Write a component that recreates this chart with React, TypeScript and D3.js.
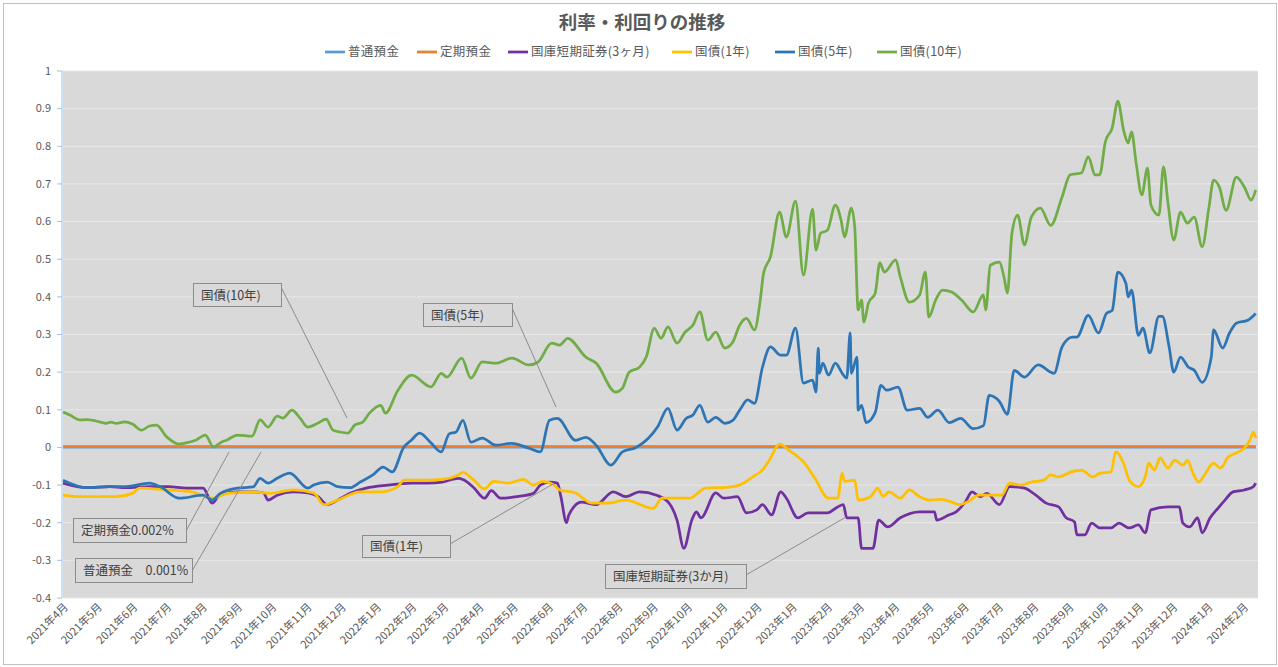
import React, { useEffect } from "react";
import * as d3 from "d3";

// ---- data (%) ----
type Pt = [string, number];

const jgb10y: Pt[] = [
  ["2021-04-01", 0.094], ["2021-04-07", 0.086], ["2021-04-16", 0.073], ["2021-04-22", 0.074],
  ["2021-05-03", 0.068], ["2021-05-09", 0.064], ["2021-05-13", 0.067], ["2021-05-18", 0.064],
  ["2021-05-25", 0.068], ["2021-06-01", 0.062], ["2021-06-09", 0.046], ["2021-06-16", 0.057],
  ["2021-06-22", 0.059], ["2021-07-01", 0.028], ["2021-07-12", 0.009], ["2021-07-18", 0.012],
  ["2021-07-27", 0.02], ["2021-08-04", 0.033], ["2021-08-11", 0.001], ["2021-08-18", 0.014],
  ["2021-08-23", 0.02], ["2021-09-01", 0.033], ["2021-09-14", 0.03], ["2021-09-21", 0.073],
  ["2021-09-28", 0.054], ["2021-10-06", 0.083], ["2021-10-11", 0.078], ["2021-10-19", 0.099],
  ["2021-10-26", 0.078], ["2021-11-02", 0.054], ["2021-11-11", 0.065], ["2021-11-18", 0.075],
  ["2021-11-24", 0.046], ["2021-11-30", 0.041], ["2021-12-07", 0.038], ["2021-12-13", 0.059],
  ["2021-12-20", 0.067], ["2021-12-26", 0.091], ["2022-01-05", 0.112], ["2022-01-09", 0.091],
  ["2022-01-20", 0.152], ["2022-02-01", 0.192], ["2022-02-18", 0.161], ["2022-02-27", 0.197],
  ["2022-03-04", 0.187], ["2022-03-17", 0.237], ["2022-03-25", 0.184], ["2022-04-04", 0.227],
  ["2022-04-16", 0.224], ["2022-04-30", 0.237], ["2022-05-15", 0.219], ["2022-05-23", 0.227],
  ["2022-06-04", 0.277], ["2022-06-11", 0.272], ["2022-06-18", 0.29], ["2022-07-04", 0.24],
  ["2022-07-13", 0.224], ["2022-07-30", 0.147], ["2022-08-05", 0.157], ["2022-08-11", 0.2],
  ["2022-08-20", 0.213], ["2022-08-26", 0.24], ["2022-09-02", 0.316], ["2022-09-08", 0.29],
  ["2022-09-14", 0.32], ["2022-09-22", 0.277], ["2022-09-29", 0.306], ["2022-10-06", 0.325],
  ["2022-10-12", 0.36], ["2022-10-19", 0.285], ["2022-10-26", 0.306], ["2022-11-03", 0.264],
  ["2022-11-10", 0.28], ["2022-11-16", 0.325], ["2022-11-22", 0.343], ["2022-11-29", 0.312],
  ["2022-12-04", 0.39], ["2022-12-07", 0.463], ["2022-12-13", 0.506], ["2022-12-21", 0.625],
  ["2022-12-27", 0.559], ["2023-01-04", 0.654], ["2023-01-11", 0.458], ["2023-01-19", 0.633],
  ["2023-01-22", 0.524], ["2023-01-26", 0.569], ["2023-02-01", 0.577], ["2023-02-08", 0.644],
  ["2023-02-13", 0.604], ["2023-02-16", 0.559], ["2023-02-22", 0.636], ["2023-02-25", 0.585],
  ["2023-02-28", 0.365], ["2023-03-03", 0.391], ["2023-03-05", 0.333], ["2023-03-09", 0.383],
  ["2023-03-15", 0.41], ["2023-03-19", 0.49], ["2023-03-23", 0.466], ["2023-04-02", 0.498],
  ["2023-04-06", 0.453], ["2023-04-14", 0.386], ["2023-04-23", 0.405], ["2023-04-28", 0.466],
  ["2023-05-01", 0.346], ["2023-05-07", 0.391], ["2023-05-13", 0.418], ["2023-05-21", 0.413],
  ["2023-05-30", 0.391], ["2023-06-09", 0.36], ["2023-06-18", 0.405], ["2023-06-20", 0.365],
  ["2023-06-24", 0.484], ["2023-07-02", 0.492], ["2023-07-06", 0.453], ["2023-07-09", 0.41],
  ["2023-07-13", 0.569], ["2023-07-18", 0.617], ["2023-07-24", 0.538], ["2023-07-30", 0.612],
  ["2023-08-07", 0.636], ["2023-08-16", 0.59], ["2023-08-26", 0.665], ["2023-09-02", 0.724],
  ["2023-09-12", 0.729], ["2023-09-18", 0.772], ["2023-09-24", 0.724], ["2023-09-28", 0.724],
  ["2023-10-03", 0.812], ["2023-10-09", 0.849], ["2023-10-14", 0.92], ["2023-10-19", 0.843],
  ["2023-10-23", 0.809], ["2023-10-26", 0.838], ["2023-10-30", 0.756], ["2023-11-04", 0.671],
  ["2023-11-09", 0.742], ["2023-11-12", 0.644], ["2023-11-19", 0.617], ["2023-11-23", 0.745],
  ["2023-11-27", 0.649], ["2023-12-02", 0.551], ["2023-12-08", 0.625], ["2023-12-14", 0.596],
  ["2023-12-20", 0.612], ["2023-12-27", 0.533], ["2024-01-02", 0.639], ["2024-01-06", 0.71],
  ["2024-01-11", 0.692], ["2024-01-17", 0.63], ["2024-01-26", 0.718], ["2024-02-02", 0.692],
  ["2024-02-08", 0.657], ["2024-02-12", 0.684],
];

const jgb5y: Pt[] = [
  ["2021-04-01", -0.087], ["2021-04-22", -0.107], ["2021-05-12", -0.104], ["2021-05-26", -0.104],
  ["2021-06-16", -0.095], ["2021-06-25", -0.104], ["2021-07-12", -0.135], ["2021-08-02", -0.127],
  ["2021-08-10", -0.14], ["2021-08-17", -0.122], ["2021-09-01", -0.108], ["2021-09-15", -0.105],
  ["2021-09-21", -0.082], ["2021-09-28", -0.095], ["2021-10-06", -0.082], ["2021-10-17", -0.068],
  ["2021-11-02", -0.108], ["2021-11-07", -0.1], ["2021-11-19", -0.092], ["2021-11-28", -0.104],
  ["2021-12-09", -0.107], ["2021-12-18", -0.092], ["2021-12-29", -0.073], ["2022-01-07", -0.052],
  ["2022-01-15", -0.065], ["2022-01-25", 0.0], ["2022-02-01", 0.02], ["2022-02-08", 0.038],
  ["2022-02-18", 0.012], ["2022-02-27", -0.012], ["2022-03-06", 0.036], ["2022-03-12", 0.041],
  ["2022-03-18", 0.072], ["2022-03-25", 0.014], ["2022-04-04", 0.025], ["2022-04-16", 0.006],
  ["2022-04-30", 0.011], ["2022-05-15", -0.002], ["2022-05-25", -0.012], ["2022-06-02", 0.072],
  ["2022-06-09", 0.077], ["2022-06-25", 0.019], ["2022-07-04", 0.027], ["2022-07-13", 0.006],
  ["2022-07-26", -0.047], ["2022-08-05", -0.012], ["2022-08-17", 0.0], ["2022-08-24", 0.014],
  ["2022-08-28", 0.025], ["2022-09-05", 0.055], ["2022-09-14", 0.104], ["2022-09-22", 0.046],
  ["2022-09-30", 0.077], ["2022-10-06", 0.086], ["2022-10-12", 0.112], ["2022-10-19", 0.067],
  ["2022-10-26", 0.08], ["2022-11-03", 0.064], ["2022-11-10", 0.072], ["2022-11-16", 0.099],
  ["2022-11-23", 0.126], ["2022-11-29", 0.117], ["2022-12-06", 0.213], ["2022-12-13", 0.267],
  ["2022-12-22", 0.245], ["2022-12-27", 0.245], ["2023-01-04", 0.317], ["2023-01-11", 0.171],
  ["2023-01-19", 0.179], ["2023-01-22", 0.147], ["2023-01-24", 0.264], ["2023-01-25", 0.197],
  ["2023-01-28", 0.224], ["2023-02-02", 0.192], ["2023-02-08", 0.224], ["2023-02-14", 0.197],
  ["2023-02-18", 0.184], ["2023-02-21", 0.304], ["2023-02-22", 0.197], ["2023-02-27", 0.24],
  ["2023-02-28", 0.099], ["2023-03-03", 0.112], ["2023-03-07", 0.066], ["2023-03-15", 0.093],
  ["2023-03-20", 0.165], ["2023-03-25", 0.152], ["2023-04-04", 0.16], ["2023-04-12", 0.099],
  ["2023-04-23", 0.104], ["2023-04-30", 0.08], ["2023-05-09", 0.099], ["2023-05-19", 0.066],
  ["2023-05-29", 0.077], ["2023-06-09", 0.05], ["2023-06-18", 0.058], ["2023-06-23", 0.138],
  ["2023-07-02", 0.122], ["2023-07-09", 0.088], ["2023-07-15", 0.205], ["2023-07-24", 0.187],
  ["2023-08-05", 0.219], ["2023-08-19", 0.197], ["2023-08-26", 0.267], ["2023-09-04", 0.293],
  ["2023-09-08", 0.293], ["2023-09-18", 0.351], ["2023-09-27", 0.304], ["2023-10-04", 0.356],
  ["2023-10-09", 0.364], ["2023-10-14", 0.466], ["2023-10-21", 0.436], ["2023-10-23", 0.4],
  ["2023-10-26", 0.418], ["2023-11-01", 0.298], ["2023-11-05", 0.317], ["2023-11-11", 0.251],
  ["2023-11-19", 0.348], ["2023-11-22", 0.348], ["2023-11-28", 0.267], ["2023-12-02", 0.2],
  ["2023-12-08", 0.24], ["2023-12-15", 0.213], ["2023-12-20", 0.205], ["2023-12-27", 0.173],
  ["2024-01-04", 0.24], ["2024-01-06", 0.312], ["2024-01-14", 0.264], ["2024-01-20", 0.304],
  ["2024-01-26", 0.33], ["2024-02-05", 0.338], ["2024-02-12", 0.356],
];

const tbill3m: Pt[] = [
  ["2021-04-01", -0.095], ["2021-04-22", -0.107], ["2021-05-12", -0.104], ["2021-05-26", -0.107],
  ["2021-06-16", -0.104], ["2021-07-03", -0.104], ["2021-07-18", -0.108], ["2021-08-02", -0.108],
  ["2021-08-10", -0.148], ["2021-08-17", -0.125], ["2021-09-01", -0.118], ["2021-09-15", -0.118],
  ["2021-09-24", -0.121], ["2021-09-28", -0.14], ["2021-10-06", -0.127], ["2021-10-20", -0.118],
  ["2021-11-02", -0.121], ["2021-11-11", -0.131], ["2021-11-19", -0.152], ["2021-11-28", -0.14],
  ["2021-12-09", -0.122], ["2021-12-23", -0.108], ["2022-01-11", -0.1], ["2022-02-01", -0.095],
  ["2022-02-15", -0.095], ["2022-02-28", -0.092], ["2022-03-14", -0.082], ["2022-03-18", -0.085],
  ["2022-03-27", -0.105], ["2022-04-06", -0.135], ["2022-04-12", -0.115], ["2022-04-20", -0.135],
  ["2022-05-06", -0.13], ["2022-05-19", -0.122], ["2022-05-25", -0.1], ["2022-06-02", -0.092],
  ["2022-06-09", -0.095], ["2022-06-12", -0.13], ["2022-06-17", -0.2], ["2022-06-19", -0.18],
  ["2022-06-30", -0.145], ["2022-07-13", -0.152], ["2022-07-28", -0.118], ["2022-08-08", -0.131],
  ["2022-08-20", -0.118], ["2022-09-04", -0.127], ["2022-09-15", -0.148], ["2022-09-22", -0.193],
  ["2022-09-28", -0.268], ["2022-10-05", -0.193], ["2022-10-09", -0.171], ["2022-10-13", -0.187],
  ["2022-10-26", -0.121], ["2022-11-02", -0.135], ["2022-11-14", -0.131], ["2022-11-22", -0.174],
  ["2022-12-01", -0.166], ["2022-12-06", -0.152], ["2022-12-14", -0.179], ["2022-12-22", -0.118],
  ["2022-12-27", -0.135], ["2023-01-06", -0.187], ["2023-01-15", -0.174], ["2023-02-01", -0.174],
  ["2023-02-10", -0.158], ["2023-02-15", -0.152], ["2023-02-18", -0.187], ["2023-02-28", -0.187],
  ["2023-03-03", -0.268], ["2023-03-13", -0.268], ["2023-03-18", -0.193], ["2023-03-26", -0.211],
  ["2023-04-06", -0.187], ["2023-04-23", -0.171], ["2023-05-06", -0.171], ["2023-05-08", -0.193],
  ["2023-05-19", -0.179], ["2023-05-25", -0.171], ["2023-06-02", -0.145], ["2023-06-08", -0.118],
  ["2023-06-15", -0.131], ["2023-06-21", -0.122], ["2023-07-02", -0.152], ["2023-07-11", -0.104],
  ["2023-07-24", -0.108], ["2023-08-03", -0.127], ["2023-08-12", -0.148], ["2023-08-23", -0.158],
  ["2023-08-29", -0.185], ["2023-09-06", -0.198], ["2023-09-08", -0.232], ["2023-09-15", -0.232],
  ["2023-09-21", -0.201], ["2023-09-28", -0.214], ["2023-10-08", -0.214], ["2023-10-15", -0.201],
  ["2023-10-24", -0.214], ["2023-11-01", -0.206], ["2023-11-07", -0.227], ["2023-11-12", -0.166],
  ["2023-11-27", -0.158], ["2023-12-07", -0.158], ["2023-12-10", -0.201], ["2023-12-16", -0.211],
  ["2023-12-23", -0.187], ["2023-12-27", -0.227], ["2024-01-03", -0.187], ["2024-01-10", -0.161],
  ["2024-01-16", -0.14], ["2024-01-23", -0.118], ["2024-02-02", -0.113], ["2024-02-10", -0.104],
  ["2024-02-12", -0.095],
];

const jgb1y: Pt[] = [
  ["2021-04-01", -0.127], ["2021-04-16", -0.131], ["2021-05-17", -0.131], ["2021-06-01", -0.122],
  ["2021-06-07", -0.108], ["2021-07-03", -0.113], ["2021-07-23", -0.118], ["2021-08-11", -0.135],
  ["2021-08-23", -0.122], ["2021-09-15", -0.118], ["2021-09-30", -0.122], ["2021-10-20", -0.113],
  ["2021-11-07", -0.121], ["2021-11-16", -0.152], ["2021-11-28", -0.14], ["2021-12-18", -0.118],
  ["2022-01-05", -0.118], ["2022-01-20", -0.104], ["2022-01-25", -0.087], ["2022-02-15", -0.087],
  ["2022-02-28", -0.085], ["2022-03-14", -0.073], ["2022-03-18", -0.066], ["2022-03-27", -0.085],
  ["2022-04-06", -0.11], ["2022-04-14", -0.09], ["2022-04-27", -0.095], ["2022-05-10", -0.085],
  ["2022-05-19", -0.1], ["2022-05-27", -0.09], ["2022-06-06", -0.1], ["2022-06-11", -0.113],
  ["2022-06-25", -0.121], ["2022-07-09", -0.148], ["2022-07-23", -0.148], ["2022-08-08", -0.14],
  ["2022-09-01", -0.162], ["2022-09-09", -0.135], ["2022-10-03", -0.135], ["2022-10-17", -0.108],
  ["2022-11-05", -0.106], ["2022-11-16", -0.1], ["2022-11-29", -0.075], ["2022-12-06", -0.06],
  ["2022-12-12", -0.034], ["2022-12-21", 0.009], ["2022-12-29", -0.007], ["2023-01-12", -0.042],
  ["2023-01-21", -0.082], ["2023-02-02", -0.135], ["2023-02-10", -0.135], ["2023-02-14", -0.069],
  ["2023-02-16", -0.09], ["2023-02-25", -0.087], ["2023-02-28", -0.14], ["2023-03-11", -0.131],
  ["2023-03-17", -0.108], ["2023-03-22", -0.13], ["2023-03-27", -0.118], ["2023-04-06", -0.135],
  ["2023-04-14", -0.113], ["2023-04-23", -0.131], ["2023-05-02", -0.14], ["2023-05-12", -0.138],
  ["2023-05-21", -0.145], ["2023-05-28", -0.152], ["2023-06-04", -0.145], ["2023-06-14", -0.127],
  ["2023-06-24", -0.127], ["2023-07-04", -0.127], ["2023-07-11", -0.095], ["2023-07-20", -0.1],
  ["2023-07-30", -0.092], ["2023-08-10", -0.087], ["2023-08-16", -0.073], ["2023-08-23", -0.078],
  ["2023-09-03", -0.065], ["2023-09-12", -0.06], ["2023-09-22", -0.078], ["2023-09-28", -0.069],
  ["2023-10-08", -0.065], ["2023-10-12", -0.012], ["2023-10-19", -0.042], ["2023-10-24", -0.087],
  ["2023-11-01", -0.104], ["2023-11-07", -0.078], ["2023-11-10", -0.042], ["2023-11-15", -0.06],
  ["2023-11-20", -0.028], ["2023-11-27", -0.055], ["2023-12-03", -0.034], ["2023-12-10", -0.047],
  ["2023-12-14", -0.034], ["2023-12-19", -0.069], ["2023-12-24", -0.092], ["2023-12-29", -0.073],
  ["2024-01-06", -0.042], ["2024-01-12", -0.055], ["2024-01-19", -0.025], ["2024-01-25", -0.016],
  ["2024-02-02", -0.002], ["2024-02-07", 0.02], ["2024-02-10", 0.041], ["2024-02-12", 0.025],
];

const ordinaryDeposit: Pt[] = [["2021-04-01", 0.001], ["2024-02-12", 0.001]];
const timeDeposit: Pt[] = [["2021-04-01", 0.002], ["2024-02-12", 0.002]];

const seriesNames = ["普通預金", "定期預金", "国庫短期証券(3ヶ月)", "国債(1年)", "国債(5年)", "国債(10年)"];
const seriesColors = ["#5b9bd5", "#ed7d31", "#7030a0", "#ffc000", "#2e75b6", "#70ad47"];
const seriesData = [ordinaryDeposit, timeDeposit, tbill3m, jgb1y, jgb5y, jgb10y];

const yTicks = [1, 0.9, 0.8, 0.7, 0.6, 0.5, 0.4, 0.3, 0.2, 0.1, 0, -0.1, -0.2, -0.3, -0.4];
const dateStart = "2021-04-01";
const dateEnd = "2024-02-14";

// callout boxes (layout only)
const callouts = [
  { text: "国債(10年)", x: 193, y: 283, w: 88, h: 23, lx1: 281, ly1: 287, lx2: 347, ly2: 418 },
  { text: "国債(5年)", x: 423, y: 303, w: 89, h: 23, lx1: 512, ly1: 308, lx2: 556, ly2: 407 },
  { text: "定期預金0.002%", x: 73, y: 518, w: 113, h: 24, lx1: 186, ly1: 531, lx2: 229, ly2: 452 },
  { text: "普通預金　0.001%", x: 75, y: 558, w: 117, h: 24, lx1: 192, ly1: 571, lx2: 261, ly2: 452 },
  { text: "国債(1年)", x: 362, y: 535, w: 88, h: 22, lx1: 450, ly1: 544, lx2: 553, ly2: 484 },
  { text: "国庫短期証券(3か月)", x: 605, y: 564, w: 141, h: 24, lx1: 746, ly1: 575, lx2: 846, ly2: 517 },
];

const FONT = "'Noto Sans CJK JP', 'Noto Sans', sans-serif";

export default function App() {
  useEffect(() => {
    document.body.style.margin = "0";
  }, []);

  const W = 1278;
  const H = 667;
  const m = { l: 63, r: 1258, t: 71, b: 598 };

  const parse = d3.timeParse("%Y-%m-%d");
  const x = d3.scaleTime().domain([parse(dateStart)!, parse(dateEnd)!]).range([m.l, m.r]);
  const y = d3.scaleLinear().domain([-0.4, 1]).range([m.b, m.t]);

  const line = d3
    .line<Pt>()
    .x(d => x(parse(d[0])!))
    .y(d => y(d[1]))
    .curve(d3.curveMonotoneX);

  const months = d3.timeMonth.range(parse(dateStart)!, parse("2024-02-02")!);
  const fmtTick = (v: number) => String(+v.toFixed(1));

  // legend layout
  const legendX = [325, 417, 508, 672, 775, 877];

  return (
    <svg width={W} height={H} style={{ display: "block", fontFamily: FONT }}>
      <rect x={0} y={0} width={W} height={H} fill="#ffffff" />
      <rect x={3.5} y={3.5} width={W - 5} height={H - 6} fill="none" stroke="#bfbfbf" />

      <text x={642} y={29} textAnchor="middle" fontSize={18.5} fontWeight="bold" fill="#595959">
        利率・利回りの推移
      </text>

      {/* legend */}
      {seriesNames.map((n, i) => (
        <g key={n} transform={`translate(${legendX[i]},52)`}>
          <line x1={0} x2={20} y1={0} y2={0} stroke={seriesColors[i]} strokeWidth={2.75} />
          <text x={23} y={0} dy="0.35em" fontSize={12.5} fill="#595959" letterSpacing={0.3}>
            {n}
          </text>
        </g>
      ))}

      {/* plot area */}
      <rect x={m.l} y={m.t} width={m.r - m.l} height={m.b - m.t} fill="#d9d9d9" />
      {yTicks.map(t => (
        <line key={t} x1={m.l} x2={m.r} y1={y(t)} y2={y(t)} stroke="#e8e8e8" strokeWidth={1} />
      ))}

      {/* y axis */}
      <line x1={m.l - 1} x2={m.l - 1} y1={m.t} y2={m.b} stroke="#9dc3e6" strokeWidth={1} />
      {yTicks.map(t => (
        <g key={t}>
          <line x1={m.l - 6} x2={m.l - 1} y1={y(t)} y2={y(t)} stroke="#9dc3e6" />
          <text x={m.l - 12} y={y(t)} dy="0.35em" textAnchor="end" fontSize={11} fill="#595959">
            {fmtTick(t)}
          </text>
        </g>
      ))}

      {/* x labels */}
      {months.map(d => (
        <text
          key={d.toISOString()}
          transform={`translate(${x(d) + 3},${m.b + 7}) rotate(-45)`}
          textAnchor="end"
          dy="0.35em"
          fontSize={11}
          fill="#595959"
        >
          {`${d.getFullYear()}年${d.getMonth() + 1}月`}
        </text>
      ))}

      {/* series */}
      {seriesData.map((s, i) => (
        <path
          key={seriesNames[i]}
          d={line(s) || ""}
          fill="none"
          stroke={seriesColors[i]}
          strokeWidth={2.75}
          strokeLinejoin="round"
        />
      ))}

      {/* callouts */}
      {callouts.map(c => (
        <g key={c.text}>
          <line x1={c.lx1} y1={c.ly1} x2={c.lx2} y2={c.ly2} stroke="#8c8c8c" strokeWidth={1} />
          <rect x={c.x + 0.5} y={c.y + 0.5} width={c.w} height={c.h} fill="#d9d9d9" stroke="#8c8c8c" />
          <text x={c.x + 8} y={c.y + c.h / 2 + 1} dy="0.35em" fontSize={12.5} fill="#404040">
            {c.text}
          </text>
        </g>
      ))}
    </svg>
  );
}
